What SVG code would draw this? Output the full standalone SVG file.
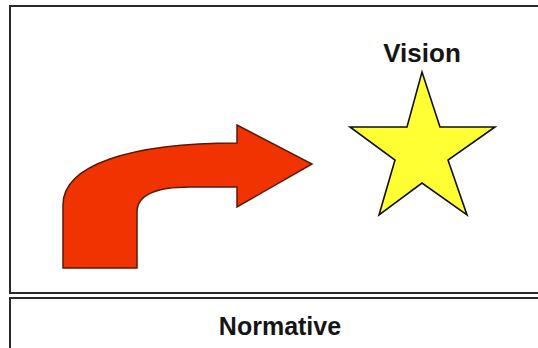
<svg xmlns="http://www.w3.org/2000/svg" width="538" height="348" viewBox="0 0 538 348">
<style>
.frame{fill:none;stroke:#2a2a2a;stroke-width:2}
.lbl{font-family:"Liberation Sans",Arial,sans-serif;font-weight:bold;fill:#151515;text-anchor:middle}
</style>
<rect width="538" height="348" fill="#ffffff"/>
<g id="upper-panel">
<rect class="frame" x="10" y="6" width="600" height="287"/>
</g>
<g id="lower-panel">
<rect class="frame" x="10" y="298" width="600" height="80"/>
<text class="lbl" x="280" y="335" font-size="25">Normative</text>
</g>
<g id="arrow">
<path d="M63,268 L63,205 C63,165 130,143 237,143 L237,125 L312,164 L237,207 L237,187 L190,187 C155,187 137,195 137,212 L137,268 Z" fill="#f03300" stroke="#5a1a0a" stroke-width="1.5" stroke-linejoin="miter"/>
</g>
<g id="vision">
<polygon points="422,72 440,127 495,127 448,160 467,215 422,183 379,215 395,160 350,127 407,127" fill="#ffff33" stroke="#111111" stroke-width="1.6" stroke-linejoin="miter"/>
<text class="lbl" x="422" y="62" font-size="26">Vision</text>
</g>
<g id="connectors"></g>
</svg>
